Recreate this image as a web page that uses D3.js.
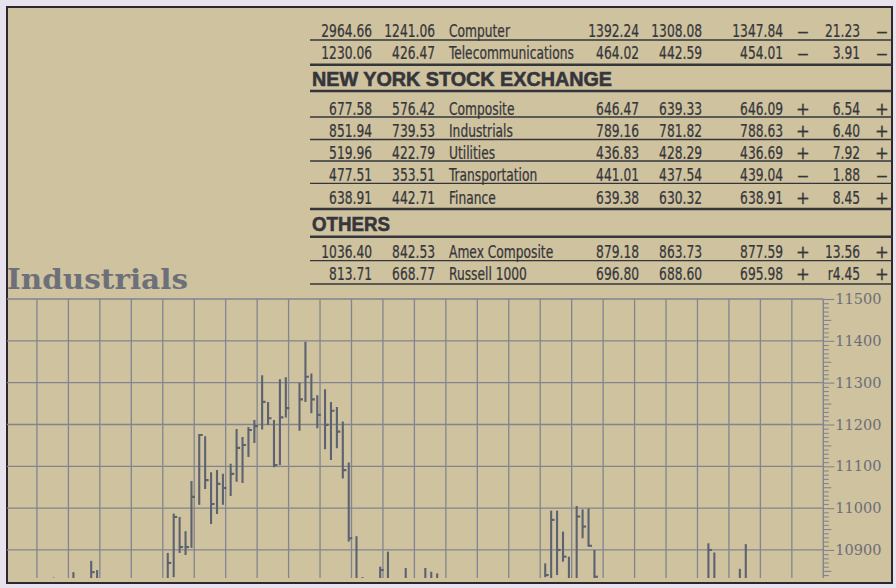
<!DOCTYPE html>
<html><head><meta charset="utf-8">
<script src="https://cdn.jsdelivr.net/npm/d3@7"></script>
<style>html,body{margin:0;padding:0;background:#e8e1ee;}svg{display:block}</style>
</head><body><svg id="c" width="896" height="588"></svg>
<script>
// ---------- table data ----------
const groupTitles = ["", "NEW YORK STOCK EXCHANGE", "OTHERS"];
const rowGroup   = [0, 0, 1, 1, 1, 1, 1, 2, 2];
const rowNames   = ["Computer", "Telecommunications", "Composite", "Industrials", "Utilities", "Transportation", "Finance", "Amex  Composite", "Russell  1000"];
const yrHigh     = ["2964.66", "1230.06", "677.58", "851.94", "519.96", "477.51", "638.91", "1036.40", "813.71"];
const yrLow      = ["1241.06", "426.47", "576.42", "739.53", "422.79", "353.51", "442.71", "842.53", "668.77"];
const dayHigh    = ["1392.24", "464.02", "646.47", "789.16", "436.83", "441.01", "639.38", "879.18", "696.80"];
const dayLow     = ["1308.08", "442.59", "639.33", "781.82", "428.29", "437.54", "630.32", "863.73", "688.60"];
const dayLast    = ["1347.84", "454.01", "646.09", "788.63", "436.69", "439.04", "638.91", "877.59", "695.98"];
const chgSign    = ["–", "–", "+", "+", "+", "–", "+", "+", "+"];
const chgValue   = ["21.23", "3.91", "6.54", "6.40", "7.92", "1.88", "8.45", "13.56", "r4.45"];
const trendSign  = ["–", "–", "+", "+", "+", "–", "+", "+", "+"];

// ---------- chart data (weekly grid, 5 trading days per week) ----------
const chartTitle = "Industrials";
const yTickLabels = [10900, 11000, 11100, 11200, 11300, 11400, 11500];
const barWeek  = [1, 2, 2, 2, 5, 5, 5, 5, 5, 6, 6, 6, 6, 6, 7, 7, 7, 7, 7, 8, 8, 8, 8, 8, 9, 9, 9, 9, 10, 10, 10, 10, 10, 11, 11, 11, 12, 12, 13, 13, 13, 17, 17, 17, 17, 17, 18, 18, 18, 18, 22, 22, 23, 23];
const barDay   = [2, 0, 3, 4, 0, 1, 2, 3, 4, 0, 1, 2, 3, 4, 0, 1, 2, 3, 4, 0, 1, 2, 3, 4, 1, 2, 3, 4, 0, 1, 2, 3, 4, 0, 1, 4, 0, 3, 1, 2, 3, 0, 1, 2, 3, 4, 0, 1, 2, 3, 1, 2, 1, 2];
const barHigh  = [10834, 10847, 10874, 10852, 10893, 10987, 10979, 10945, 11065, 11177, 11172, 11086, 11091, 11082, 11106, 11189, 11170, 11194, 11211, 11318, 11254, 11211, 11308, 11313, 11300, 11398, 11322, 11270, 11284, 11254, 11242, 11207, 11109, 10933, 10835, 10860, 10896, 10857, 10857, 10848, 10844, 10868, 10994, 10994, 10944, 10884, 11005, 10997, 10999, 10900, 10916, 10894, 10855, 10914];
const barLow   = [10800, 10800, 10800, 10800, 10800, 10835, 10893, 10888, 10905, 11008, 11046, 10962, 10986, 11008, 11029, 11063, 11060, 11122, 11156, 11188, 11199, 11098, 11103, 11217, 11185, 11254, 11227, 11191, 11141, 11115, 11143, 11071, 10920, 10800, 10800, 10800, 10800, 10800, 10800, 10800, 10800, 10835, 10800, 10840, 10872, 10800, 10800, 10928, 10908, 10830, 10800, 10800, 10800, 10800];
const barClose = [10815, 10820, 10847, 10820, 10869, 10979, 10907, 10907, 11027, 11175, 11067, 11010, 11058, 11048, 11082, 11144, 11151, 11187, 11196, 11254, 11215, 11103, 11217, 11239, 11260, 11314, 11260, 11223, 11199, 11233, 11183, 11091, 10928, 10820, 10815, 10852, 10820, 10820, 10820, 10820, 10820, 10840, 10972, 10900, 10884, 10820, 10980, 10956, 10910, 10836, 10900, 10820, 10820, 10820];

// ---------- drawing ----------
const svg = d3.select("#c");
const W = 896, H = 588;
svg.append("rect").attr("width", W).attr("height", H).attr("fill", "#e8e1ee");
svg.append("rect").attr("x", 7).attr("y", 7).attr("width", 885).attr("height", 576)
  .attr("fill", "#cfc29f").attr("stroke", "#2b292d").attr("stroke-width", 2);

// table
const inkDark = "#35363b";
const tbl = svg.append("g").attr("fill", inkDark);
const tFont = "'Liberation Sans Narrow', 'DejaVu Sans Condensed', 'Arial Narrow', sans-serif";
function tText(x, y, s, anchor, sx) {
  tbl.append("text").attr("transform", `translate(${x},${y}) scale(${sx},1)`)
    .attr("text-anchor", anchor).attr("font-family", tFont).attr("font-size", 18.3)
    .attr("stroke", inkDark).attr("stroke-width", 0.25)
    .text(s);
}
const NS = 0.745;
const signScale = s => s === "–" ? 1.45 : 1;
// slot layout
const slotBase = [37, 59, 86, 115, 136.7, 159, 180.8, 204.3, 230.7, 258, 280];
const slotLine = [40, 64.8, 91, 117, 139.5, 161, 183.3, 209, 236.7, 260.7, 284];
let slot = 0, prevGroup = -1;
const lineSpecs = [];
rowNames.forEach((name, i) => {
  const g = rowGroup[i];
  if (g !== prevGroup && groupTitles[g]) {
    const hb = slotBase[slot];
    tbl.append("text").attr("x", 312).attr("y", hb)
      .attr("font-family", "'Liberation Sans', Arial, sans-serif").attr("font-weight", 900)
      .attr("font-size", 20.5).attr("textLength", g === 1 ? 300 : 78).attr("lengthAdjust", "spacingAndGlyphs")
      .attr("stroke", inkDark).attr("stroke-width", 0.6)
      .text(groupTitles[g]);
    lineSpecs.push({ y: slotLine[slot], thick: true });
    slot++;
  }
  prevGroup = g;
  const b = slotBase[slot];
  tText(372, b, yrHigh[i], "end", NS);
  tText(435, b, yrLow[i], "end", NS);
  tText(449, b, name, "start", NS);
  tText(639, b, dayHigh[i], "end", NS);
  tText(702, b, dayLow[i], "end", NS);
  tText(783, b, dayLast[i], "end", NS);
  tText(803, b, chgSign[i], "middle", signScale(chgSign[i]));
  tText(860, b, chgValue[i], "end", NS);
  tText(882, b, trendSign[i], "middle", signScale(trendSign[i]));
  const nextHeader = i + 1 < rowNames.length && rowGroup[i + 1] !== g;
  lineSpecs.push({ y: slotLine[slot], thick: nextHeader });
  slot++;
});
svg.append("g").selectAll("line").data(lineSpecs).join("line")
  .attr("x1", 310).attr("x2", 892).attr("y1", d => d.y).attr("y2", d => d.y)
  .attr("stroke", "#35363b").attr("stroke-width", d => d.thick ? 2.4 : 1.3);

// chart scales
const yTop = 299, yBot = 578, xLeft = 7;
const y = d3.scaleLinear().domain([10833, 11500]).range([yBot, yTop]);
const xWeek = d3.scaleLinear().domain([0, 26]).range([5.5, 823.3]);
const xDay = d3.scalePoint().domain([0, 1, 2, 3, 4]).range([5, 28.7]);
const xAxisPos = xWeek(26);
const gridColor = "#82858e";

// title
svg.append("text").attr("x", 7).attr("y", 289)
  .attr("font-family", "'DejaVu Serif', serif").attr("font-weight", "bold").attr("font-size", 27)
  .attr("textLength", 181).attr("lengthAdjust", "spacingAndGlyphs")
  .attr("fill", "#6d707a").text(chartTitle);

// grid
const grid = svg.append("g").attr("stroke", gridColor).attr("stroke-width", 1.3);
grid.selectAll("line.h").data(yTickLabels).join("line").attr("class", "h")
  .attr("x1", xLeft).attr("x2", xAxisPos).attr("y1", d => y(d)).attr("y2", d => y(d));
grid.selectAll("line.v").data(d3.range(1, 26)).join("line").attr("class", "v")
  .attr("x1", d => xWeek(d)).attr("x2", d => xWeek(d)).attr("y1", yTop).attr("y2", yBot);

// right axis
const minor = d3.range(10840, 11501, 10);
const axis = d3.axisRight(y).tickValues(minor).tickSize(6).tickPadding(2)
  .tickFormat(d => d % 100 === 0 ? d : "");
const ax = svg.append("g").attr("transform", `translate(${xAxisPos},0)`).call(axis);
ax.select(".domain").attr("stroke", gridColor).attr("stroke-width", 1.4).attr("d", `M0,${yTop}V${yBot}`);
ax.selectAll(".tick line").attr("stroke", gridColor).attr("stroke-width", 1.1)
  .attr("x2", d => d % 100 === 0 ? 11 : (d % 50 === 0 ? 8 : 5.5));
ax.selectAll(".tick text").attr("x", 12).attr("fill", "#6b6e78")
  .attr("font-family", "'DejaVu Serif', serif").attr("font-size", 14.5);

// bars
svg.append("clipPath").attr("id", "clip").append("rect")
  .attr("x", xLeft).attr("y", yTop).attr("width", xAxisPos - xLeft).attr("height", yBot - yTop);
const bars = barHigh.map((h, i) => ({ w: barWeek[i], d: barDay[i], h, l: barLow[i], c: barClose[i] }));
const bx = b => xWeek(b.w) + xDay(b.d);
const bg = svg.append("g").attr("clip-path", "url(#clip)").attr("stroke", "#5d6271").attr("stroke-width", 2.1);
bg.selectAll("line.hl").data(bars).join("line").attr("class", "hl")
  .attr("x1", bx).attr("x2", bx).attr("y1", b => y(b.h)).attr("y2", b => y(b.l));
bg.selectAll("line.cl").data(bars).join("line").attr("class", "cl")
  .attr("x1", bx).attr("x2", b => bx(b) + 3.5).attr("y1", b => y(b.c)).attr("y2", b => y(b.c));
</script></body></html>
